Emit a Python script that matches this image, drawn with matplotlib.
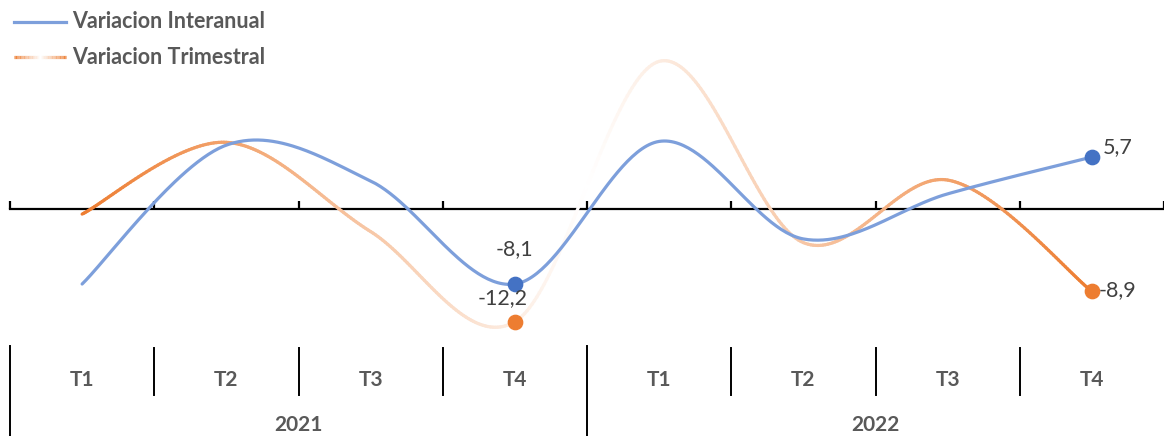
import numpy as np
import matplotlib
matplotlib.use("Agg")
import matplotlib.pyplot as plt
from matplotlib.collections import LineCollection
from matplotlib.transforms import blended_transform_factory
from matplotlib.lines import Line2D

plt.rcParams['font.family'] = ['Lato', 'DejaVu Sans']

quarters = ["T1", "T2", "T3", "T4", "T1", "T2", "T3", "T4"]
years = ["2021", "2022"]
interanual = [-8.1, 7.0, 3.1, -8.1, 7.4, -3.2, 1.7, 5.7]
trimestral = [-0.5, 7.3, -2.4, -12.2, 16.1, -3.6, 3.2, -8.9]
series_names = ["Variacion Interanual", "Variacion Trimestral"]

BLUE_LINE = "#7D9FDB"
BLUE_MARK = "#4472C4"
ORANGE = "#ED7D31"
GRAY = "#595959"
LABEL = "#404040"

W, H = 1164, 436
fig = plt.figure(figsize=(W / 100, H / 100), dpi=100)
ax_top, ax_bot = 40, 340
ax = fig.add_axes([10 / W, (H - ax_bot) / H, 1154 / W, (ax_bot - ax_top) / H])
px_per_cat = 145.4
px_per_unit = 9.2
zero_px = 209.5
ax.set_xlim(-0.5, -0.5 + 1154 / px_per_cat)
ax.set_ylim(-(ax_bot - zero_px) / px_per_unit, (zero_px - ax_top) / px_per_unit)
ax.set_autoscale_on(False)

for s in ["top", "right", "left"]:
    ax.spines[s].set_visible(False)
ax.spines["bottom"].set_position(("data", 0))
ax.spines["bottom"].set_linewidth(1.6)
ax.spines["bottom"].set_color("black")
ax.set_yticks([])
ax.set_xticks(np.arange(-0.5, 8, 1.0))
ax.tick_params(axis="x", direction="in", length=5.5, width=1.6, labelbottom=False, color="black")
ax.patch.set_alpha(0)


def smooth(xs, ys, n=60):
    pts = np.column_stack([xs, ys]).astype(float)
    out = []
    for i in range(len(pts) - 1):
        p0 = pts[i - 1] if i > 0 else pts[i]
        p1 = pts[i]
        p2 = pts[i + 1]
        p3 = pts[i + 2] if i + 2 < len(pts) else pts[i + 1]
        c1 = p1 + (p2 - p0) / 6.0
        c2 = p2 - (p3 - p1) / 6.0
        t = np.linspace(0, 1, n)[:, None]
        seg = ((1 - t) ** 3) * p1 + 3 * ((1 - t) ** 2) * t * c1 + 3 * (1 - t) * t ** 2 * c2 + t ** 3 * p2
        if i > 0:
            seg = seg[1:]
        out.append(seg)
    return np.vstack(out)


x = np.arange(len(quarters))

# orange gradient line (orange -> white -> orange)
cur = smooth(x, trimestral)
segs = np.stack([cur[:-1], cur[1:]], axis=1)
mid = (cur[:-1, 0] + cur[1:, 0]) / 2
x0, x1 = x[0], x[-1]
f = np.abs(mid - (x0 + x1) / 2) / ((x1 - x0) / 2)
orange_rgb = np.array(matplotlib.colors.to_rgb(ORANGE))
cols = orange_rgb[None, :] * f[:, None] + np.ones(3)[None, :] * (1 - f[:, None])
lc = LineCollection(segs, colors=cols, linewidths=2.3, capstyle="round", zorder=3)
ax.add_collection(lc, autolim=False)

# blue line
cur_b = smooth(x, interanual)
ax.plot(cur_b[:, 0], cur_b[:, 1], color=BLUE_LINE, lw=2.3, solid_capstyle="round", zorder=4)

# markers
ax.plot([x[3], x[7]], [interanual[3], interanual[7]], "o", ms=10.3, color=BLUE_MARK, zorder=6)
ax.plot([x[3], x[7]], [trimestral[3], trimestral[7]], "o", ms=10.3, color=ORANGE, zorder=6)


def fmt(v):
    return f"{v:.1f}".replace(".", ",")


lab_kw = dict(textcoords="offset points", fontsize=15.5, color=LABEL, va="center", zorder=7)
ax.annotate(fmt(interanual[3]), (x[3], interanual[3]), xytext=(0, 25), ha="center", **lab_kw)
ax.annotate(fmt(trimestral[3]), (x[3], trimestral[3]), xytext=(-9, 17), ha="center", **lab_kw)
ax.annotate(fmt(interanual[7]), (x[7], interanual[7]), xytext=(7.5, 7.2), ha="left", **lab_kw)
ax.annotate(fmt(trimestral[7]), (x[7], trimestral[7]), xytext=(5, 1.2), ha="left", **lab_kw)

# category axis (multi-level)
tr = blended_transform_factory(ax.transData, fig.transFigure)
def fy(py):
    return 1 - py / H

for i, q in enumerate(quarters):
    ax.text(x[i], fy(380), q, transform=tr, ha="center", va="center",
            fontsize=15, fontweight="bold", color=GRAY)
for j, yr in enumerate(years):
    ax.text(j * 4 + 1.5, fy(425), yr, transform=tr, ha="center", va="center",
            fontsize=15, fontweight="bold", color=GRAY)
for b in np.arange(-0.5, 8, 1.0):
    if b > 7.4:
        continue
    if abs((b + 0.5) % 4) < 1e-9:
        ln = Line2D([b, b], [fy(346), fy(436)], transform=tr, color="black", lw=1.4, clip_on=False)
    else:
        ln = Line2D([b, b], [fy(348), fy(395)], transform=tr, color="black", lw=1.4, clip_on=False)
    fig.add_artist(ln)

# legend (manual)
fig.add_artist(Line2D([14 / W, 66 / W], [fy(22), fy(22)], color=BLUE_LINE, lw=2.3))
fig.text(72 / W, fy(22), series_names[0], ha="left", va="center", fontsize=15.5,
         fontweight="bold", color=GRAY)
lx = np.linspace(14, 66, 40) / W
lsegs = np.stack([np.column_stack([lx[:-1], np.full(39, fy(57))]),
                  np.column_stack([lx[1:], np.full(39, fy(57))])], axis=1)
lm = (lx[:-1] + lx[1:]) / 2
lf = np.abs(lm - (lx[0] + lx[-1]) / 2) / ((lx[-1] - lx[0]) / 2)
lcols = orange_rgb[None, :] * lf[:, None] + (1 - lf[:, None])
fig.add_artist(LineCollection(lsegs, colors=lcols, linewidths=2.3, transform=fig.transFigure))
fig.text(72 / W, fy(57), series_names[1], ha="left", va="center", fontsize=15.5,
         fontweight="bold", color=GRAY)

fig.savefig("out.png", dpi=100, facecolor="white")
